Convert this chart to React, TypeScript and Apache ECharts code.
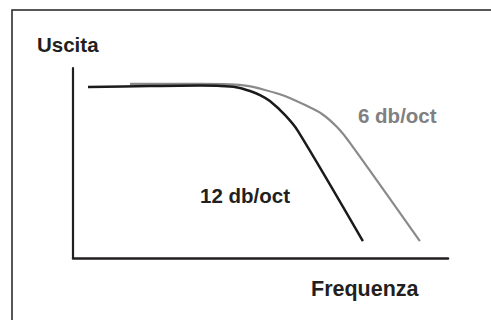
import React, { useEffect, useRef } from "react";
import * as echarts from "echarts";

// Response curves (x: frequency 0-100, y: output 0-100)
const curve12X = [4, 20.5, 33.9, 38.5, 43.5, 47.2, 50, 52.5, 56.5, 60, 77.3];
const curve12Y = [90, 90.5, 90.8, 90.6, 89.9, 87.9, 85.6, 82.6, 75.3, 66.8, 8.9];
const curve6X = [15.2, 33.9, 41.9, 46.5, 50.7, 56.5, 61.9, 66.4, 70.4, 73.9, 92.5];
const curve6Y = [91.6, 91.6, 91.4, 90.6, 88.7, 85.3, 80.5, 75.8, 68.9, 60.5, 8.9];

const yTitle = "Uscita";
const xTitle = "Frequenza";
const label12 = "12 db/oct";
const label6 = "6 db/oct";

const FONT = "'Liberation Sans', Arial, Helvetica, sans-serif";

export default function App() {
  const ref = useRef<HTMLDivElement>(null);
  useEffect(() => {
    if (!ref.current) return;
    const chart = echarts.init(ref.current, undefined, { renderer: "svg" });
    const pts = (xs: number[], ys: number[]) => xs.map((x, i) => [x, ys[i]]);
    const txt = (text: string, x: number, y: number, fill: string, size = 20.5) => ({
      type: "text",
      x,
      y,
      style: { text, fontFamily: FONT, fontWeight: "bold", fontSize: size, fill, align: "left", verticalAlign: "middle" },
    });
    chart.setOption({
      animation: false,
      backgroundColor: "#ffffff",
      grid: { left: 73, right: 43, top: 68, bottom: 62, containLabel: false },
      xAxis: {
        type: "value",
        min: 0,
        max: 100,
        axisLine: { show: true, lineStyle: { color: "#231f20", width: 2.5 } },
        axisTick: { show: false },
        axisLabel: { show: false },
        splitLine: { show: false },
      },
      yAxis: {
        type: "value",
        min: 0,
        max: 100,
        axisLine: { show: true, lineStyle: { color: "#231f20", width: 2.2 } },
        axisTick: { show: false },
        axisLabel: { show: false },
        splitLine: { show: false },
      },
      series: [
        {
          name: label6,
          type: "line",
          data: pts(curve6X, curve6Y),
          smooth: 0.3,
          symbol: "none",
          lineStyle: { color: "#8a8a8a", width: 2.2 },
        },
        {
          name: label12,
          type: "line",
          data: pts(curve12X, curve12Y),
          smooth: 0.3,
          symbol: "none",
          lineStyle: { color: "#1c1a1b", width: 2.5 },
        },
      ],
      graphic: [
        {
          type: "rect",
          shape: { x: 12, y: 10, width: 500, height: 330 },
          style: { fill: "none", stroke: "#231f20", lineWidth: 1.5 },
          silent: true,
        },
        txt(yTitle, 37, 44, "#231f20"),
        txt(xTitle, 311, 289, "#231f20", 21.5),
        txt(label12, 200, 195, "#231f20"),
        txt(label6, 358, 115, "#808080"),
      ],
    });
    return () => chart.dispose();
  }, []);
  return (
    <div
      ref={ref}
      style={{ position: "fixed", left: 0, top: 0, width: 491, height: 320 }}
    />
  );
}
